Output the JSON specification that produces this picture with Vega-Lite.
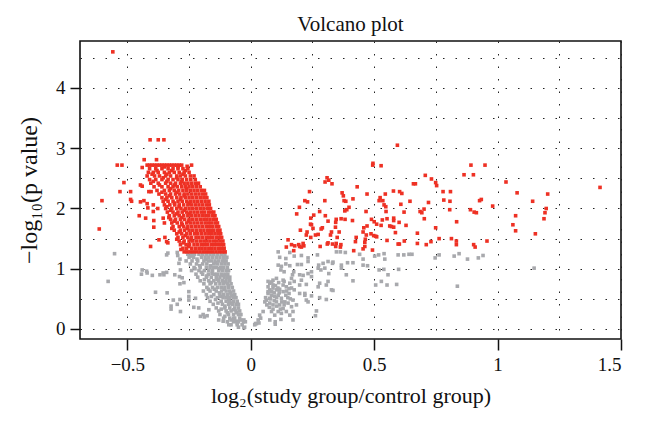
{"$schema":"https://vega.github.io/schema/vega-lite/v6.json","width":541,"height":298,"autosize":{"type":"none"},"padding":{"left":80,"top":41,"right":25,"bottom":89},"background":"white",
"config":{"view":{"stroke":"#111","strokeWidth":1.6},"font":"Liberation Serif"},
"title":{"text":"Volcano plot","fontSize":21,"fontWeight":"normal","font":"Liberation Serif","color":"#111","offset":6},
"datasets":{
"gray":[
{"x":-0.243,"y":1.21},{"x":-0.218,"y":1.16},{"x":-0.207,"y":1.05},{"x":-0.226,"y":1.0},{"x":-0.182,"y":1.15},{"x":-0.163,"y":1.05},{"x":-0.143,"y":1.1},{"x":-0.127,"y":1.0},{"x":-0.108,"y":1.13},{"x":-0.2,"y":0.94},{"x":-0.178,"y":0.88},{"x":-0.157,"y":0.92},{"x":-0.113,"y":0.89},{"x":-0.188,"y":0.82},{"x":-0.16,"y":0.77},{"x":-0.137,"y":0.82},{"x":-0.105,"y":0.78},{"x":-0.09,"y":0.72},{"x":-0.172,"y":0.66},{"x":-0.148,"y":0.66},{"x":-0.127,"y":0.6},{"x":-0.108,"y":0.66},{"x":-0.082,"y":0.6},{"x":-0.16,"y":0.54},{"x":-0.143,"y":0.49},{"x":-0.122,"y":0.54},{"x":-0.09,"y":0.49},{"x":-0.073,"y":0.55},{"x":-0.133,"y":0.43},{"x":-0.105,"y":0.38},{"x":-0.08,"y":0.43},{"x":-0.12,"y":0.33},{"x":-0.095,"y":0.27},{"x":-0.07,"y":0.32},{"x":-0.057,"y":0.27},{"x":-0.105,"y":0.21},{"x":-0.08,"y":0.15},{"x":-0.04,"y":0.15},
{"x":0.747,"y":1.18},{"x":0.763,"y":1.23},{"x":0.824,"y":1.21},{"x":0.844,"y":1.25},{"x":0.878,"y":1.16},{"x":0.922,"y":1.18},{"x":0.941,"y":1.22},{"x":1.148,"y":1.01},{"x":0.837,"y":0.71},
{"x":0.111,"y":1.28},{"x":0.117,"y":1.19},{"x":0.142,"y":1.17},{"x":0.158,"y":1.27},{"x":0.176,"y":1.21},{"x":0.205,"y":1.22},{"x":0.232,"y":1.18},{"x":0.27,"y":1.23},{"x":0.142,"y":1.08},{"x":0.111,"y":1.06},{"x":0.124,"y":1.04},{"x":0.158,"y":1.05},{"x":0.189,"y":1.07},{"x":0.205,"y":1.07},{"x":0.232,"y":1.12},{"x":0.347,"y":1.28},{"x":0.363,"y":1.28},{"x":0.383,"y":1.27},{"x":0.441,"y":1.24},{"x":0.455,"y":1.16},{"x":0.502,"y":1.21},{"x":0.518,"y":1.23},{"x":0.54,"y":1.25},{"x":0.543,"y":1.16},{"x":0.597,"y":1.23},{"x":0.62,"y":1.23},{"x":0.641,"y":1.24},{"x":0.653,"y":1.24},{"x":0.313,"y":1.12},{"x":0.293,"y":1.09},{"x":0.275,"y":1.06},{"x":0.333,"y":1.11},{"x":0.367,"y":1.06},{"x":0.392,"y":1.1},{"x":0.414,"y":1.1},{"x":0.455,"y":1.06},{"x":0.473,"y":1.05},{"x":0.3,"y":1.01},{"x":0.367,"y":1.01},{"x":0.52,"y":0.98},{"x":0.539,"y":0.99},{"x":0.556,"y":0.9},{"x":0.599,"y":0.99},{"x":0.387,"y":0.9},{"x":0.414,"y":0.8},{"x":0.529,"y":0.79},{"x":0.506,"y":0.73},{"x":0.552,"y":0.73},{"x":0.591,"y":0.74},{"x":0.331,"y":1.09},{"x":0.273,"y":1.01},{"x":0.284,"y":0.98},{"x":0.246,"y":0.95},{"x":0.232,"y":0.92},{"x":0.212,"y":0.89},{"x":0.198,"y":0.9},{"x":0.174,"y":0.95},{"x":0.169,"y":0.9},{"x":0.135,"y":0.95},{"x":0.122,"y":0.98},{"x":0.135,"y":0.79},{"x":0.09,"y":0.81},{"x":0.104,"y":0.84},{"x":0.07,"y":0.79},{"x":0.077,"y":0.76},{"x":0.113,"y":0.77},{"x":0.131,"y":0.73},{"x":0.176,"y":0.79},{"x":0.205,"y":0.81},{"x":0.225,"y":0.74},{"x":0.316,"y":0.92},{"x":0.313,"y":0.79},{"x":0.306,"y":0.73},{"x":0.279,"y":0.76},{"x":0.273,"y":0.7},{"x":0.246,"y":0.87},{"x":0.327,"y":0.65},{"x":0.333,"y":0.64},{"x":0.198,"y":0.59},{"x":0.219,"y":0.59},{"x":0.246,"y":0.55},{"x":0.225,"y":0.48},{"x":0.232,"y":0.45},{"x":0.279,"y":0.52},{"x":0.306,"y":0.49},{"x":0.176,"y":0.65},{"x":0.165,"y":0.68},{"x":0.155,"y":0.59},{"x":0.142,"y":0.56},{"x":0.131,"y":0.62},{"x":0.117,"y":0.66},{"x":0.104,"y":0.65},{"x":0.09,"y":0.68},{"x":0.077,"y":0.65},{"x":0.07,"y":0.59},{"x":0.063,"y":0.48},{"x":0.057,"y":0.45},{"x":0.084,"y":0.56},{"x":0.097,"y":0.54},{"x":0.111,"y":0.56},{"x":0.124,"y":0.51},{"x":0.138,"y":0.45},{"x":0.151,"y":0.43},{"x":0.171,"y":0.48},{"x":0.185,"y":0.4},{"x":0.077,"y":0.43},{"x":0.09,"y":0.4},{"x":0.104,"y":0.45},{"x":0.117,"y":0.4},{"x":0.131,"y":0.34},{"x":0.144,"y":0.29},{"x":0.165,"y":0.37},{"x":0.171,"y":0.29},{"x":0.084,"y":0.29},{"x":0.097,"y":0.23},{"x":0.111,"y":0.29},{"x":0.124,"y":0.26},{"x":0.05,"y":0.29},{"x":0.036,"y":0.23},{"x":0.023,"y":0.09},{"x":0.016,"y":0.07},{"x":0.03,"y":0.15},{"x":0.077,"y":0.15},{"x":0.099,"y":0.12},{"x":0.099,"y":0.08},{"x":0.122,"y":0.16},{"x":0.171,"y":0.15},{"x":0.266,"y":0.3},{"x":0.262,"y":0.22},{"x":0.158,"y":0.23},{"x":0.077,"y":0.51},{"x":0.07,"y":0.7},{"x":0.09,"y":0.73},{"x":0.131,"y":0.81},{"x":0.144,"y":0.7},{"x":0.158,"y":0.76},{"x":0.165,"y":0.84},{"x":0.198,"y":0.73},{"x":0.219,"y":0.56},{"x":0.06,"y":0.52},{"x":0.07,"y":0.62},{"x":0.08,"y":0.5},{"x":0.085,"y":0.62},{"x":0.095,"y":0.47},{"x":0.105,"y":0.52},{"x":0.115,"y":0.6},{"x":0.125,"y":0.45},{"x":0.095,"y":0.6},{"x":0.105,"y":0.38},{"x":0.12,"y":0.33},{"x":0.135,"y":0.4},{"x":0.09,"y":0.33},{"x":0.075,"y":0.36},{"x":0.065,"y":0.4},{"x":0.15,"y":0.52},{"x":0.16,"y":0.5},{"x":0.145,"y":0.63},{"x":0.155,"y":0.67},{"x":0.1,"y":0.72},{"x":0.085,"y":0.78},{"x":0.11,"y":0.68},{"x":0.019,"y":0.09},{"x":0.033,"y":0.1},{"x":0.04,"y":0.18},
{"x":-0.552,"y":1.25},{"x":-0.578,"y":0.79},{"x":-0.44,"y":0.98},{"x":-0.443,"y":0.91},{"x":-0.422,"y":0.96},{"x":-0.42,"y":0.93},{"x":-0.399,"y":0.89},{"x":-0.368,"y":0.9},{"x":-0.352,"y":0.9},{"x":-0.341,"y":0.94},{"x":-0.355,"y":0.93},{"x":-0.336,"y":1.26},{"x":-0.341,"y":1.23},{"x":-0.298,"y":1.27},{"x":-0.296,"y":1.22},{"x":-0.287,"y":1.16},{"x":-0.291,"y":1.09},{"x":-0.285,"y":0.98},{"x":-0.308,"y":0.9},{"x":-0.289,"y":0.87},{"x":-0.278,"y":0.85},{"x":-0.287,"y":0.75},{"x":-0.271,"y":0.77},{"x":-0.386,"y":0.61},{"x":-0.339,"y":0.6},{"x":-0.314,"y":0.48},{"x":-0.287,"y":0.49},{"x":-0.298,"y":0.41},{"x":-0.323,"y":0.38},{"x":-0.323,"y":0.33},{"x":-0.285,"y":0.29},{"x":-0.251,"y":0.62},{"x":-0.251,"y":0.54},{"x":-0.251,"y":0.48},{"x":-0.231,"y":0.36},{"x":-0.211,"y":0.35},{"x":-0.224,"y":0.51},
{"x":-0.188,"y":0.2},{"x":-0.177,"y":0.22},{"x":-0.193,"y":0.24},{"x":-0.17,"y":0.32},{"x":-0.204,"y":0.21},{"x":-0.13,"y":0.15},{"x":-0.112,"y":0.13},{"x":-0.089,"y":0.07},{"x":-0.069,"y":0.18},{"x":-0.058,"y":0.13},{"x":-0.045,"y":0.24},{"x":-0.028,"y":0.15},{"x":-0.022,"y":0.12},{"x":-0.028,"y":0.02},{"x":-0.055,"y":0.1},
{"x":-0.255,"y":1.24},{"x":-0.24,"y":1.24},{"x":-0.228,"y":1.24},{"x":-0.21,"y":1.24},{"x":-0.195,"y":1.24},{"x":-0.18,"y":1.24},{"x":-0.165,"y":1.24},{"x":-0.15,"y":1.24},{"x":-0.135,"y":1.24},{"x":-0.12,"y":1.24},{"x":-0.105,"y":1.24},
{"x":-0.25,"y":1.19},{"x":-0.232,"y":1.19},{"x":-0.2,"y":1.19},{"x":-0.185,"y":1.19},{"x":-0.17,"y":1.19},{"x":-0.155,"y":1.19},{"x":-0.14,"y":1.19},{"x":-0.125,"y":1.19},{"x":-0.11,"y":1.19},{"x":-0.097,"y":1.19},
{"x":-0.262,"y":1.13},{"x":-0.238,"y":1.13},{"x":-0.215,"y":1.13},{"x":-0.19,"y":1.13},{"x":-0.172,"y":1.13},{"x":-0.16,"y":1.13},{"x":-0.145,"y":1.13},{"x":-0.13,"y":1.13},{"x":-0.115,"y":1.13},{"x":-0.1,"y":1.13},
{"x":-0.245,"y":1.08},{"x":-0.22,"y":1.08},{"x":-0.195,"y":1.08},{"x":-0.178,"y":1.08},{"x":-0.15,"y":1.08},{"x":-0.136,"y":1.08},{"x":-0.12,"y":1.08},{"x":-0.105,"y":1.08},{"x":-0.092,"y":1.08},
{"x":-0.23,"y":1.02},{"x":-0.205,"y":1.02},{"x":-0.18,"y":1.02},{"x":-0.165,"y":1.02},{"x":-0.15,"y":1.02},{"x":-0.138,"y":1.02},{"x":-0.122,"y":1.02},{"x":-0.11,"y":1.02},{"x":-0.095,"y":1.02},
{"x":-0.24,"y":0.97},{"x":-0.21,"y":0.97},{"x":-0.188,"y":0.97},{"x":-0.17,"y":0.97},{"x":-0.155,"y":0.97},{"x":-0.13,"y":0.97},{"x":-0.115,"y":0.97},{"x":-0.1,"y":0.97},{"x":-0.09,"y":0.97},
{"x":-0.222,"y":0.91},{"x":-0.195,"y":0.91},{"x":-0.172,"y":0.91},{"x":-0.148,"y":0.91},{"x":-0.135,"y":0.91},{"x":-0.12,"y":0.91},{"x":-0.105,"y":0.91},{"x":-0.093,"y":0.91},
{"x":-0.215,"y":0.86},{"x":-0.18,"y":0.86},{"x":-0.16,"y":0.86},{"x":-0.14,"y":0.86},{"x":-0.125,"y":0.86},{"x":-0.108,"y":0.86},{"x":-0.095,"y":0.86},{"x":-0.085,"y":0.86},
{"x":-0.205,"y":0.8},{"x":-0.17,"y":0.8},{"x":-0.15,"y":0.8},{"x":-0.13,"y":0.8},{"x":-0.115,"y":0.8},{"x":-0.1,"y":0.8},{"x":-0.085,"y":0.8},
{"x":-0.19,"y":0.75},{"x":-0.165,"y":0.75},{"x":-0.142,"y":0.75},{"x":-0.125,"y":0.75},{"x":-0.11,"y":0.75},{"x":-0.095,"y":0.75},{"x":-0.08,"y":0.75},
{"x":-0.178,"y":0.69},{"x":-0.155,"y":0.69},{"x":-0.135,"y":0.69},{"x":-0.12,"y":0.69},{"x":-0.105,"y":0.69},{"x":-0.09,"y":0.69},{"x":-0.075,"y":0.69},
{"x":-0.192,"y":0.63},{"x":-0.165,"y":0.63},{"x":-0.14,"y":0.63},{"x":-0.118,"y":0.63},{"x":-0.1,"y":0.63},{"x":-0.085,"y":0.63},{"x":-0.07,"y":0.63},
{"x":-0.18,"y":0.57},{"x":-0.15,"y":0.57},{"x":-0.125,"y":0.57},{"x":-0.11,"y":0.57},{"x":-0.095,"y":0.57},{"x":-0.08,"y":0.57},{"x":-0.065,"y":0.57},
{"x":-0.175,"y":0.52},{"x":-0.135,"y":0.52},{"x":-0.112,"y":0.52},{"x":-0.098,"y":0.52},{"x":-0.085,"y":0.52},{"x":-0.07,"y":0.52},{"x":-0.06,"y":0.52},
{"x":-0.165,"y":0.46},{"x":-0.12,"y":0.46},{"x":-0.1,"y":0.46},{"x":-0.085,"y":0.46},{"x":-0.07,"y":0.46},{"x":-0.055,"y":0.46},
{"x":-0.152,"y":0.41},{"x":-0.115,"y":0.41},{"x":-0.09,"y":0.41},{"x":-0.075,"y":0.41},{"x":-0.06,"y":0.41},{"x":-0.05,"y":0.41},
{"x":-0.14,"y":0.35},{"x":-0.105,"y":0.35},{"x":-0.085,"y":0.35},{"x":-0.065,"y":0.35},{"x":-0.05,"y":0.35},
{"x":-0.13,"y":0.3},{"x":-0.1,"y":0.3},{"x":-0.08,"y":0.3},{"x":-0.06,"y":0.3},{"x":-0.045,"y":0.3},
{"x":-0.125,"y":0.24},{"x":-0.09,"y":0.24},{"x":-0.07,"y":0.24},{"x":-0.05,"y":0.24},{"x":-0.04,"y":0.24},
{"x":-0.11,"y":0.18},{"x":-0.085,"y":0.18},{"x":-0.065,"y":0.18},{"x":-0.045,"y":0.18},
{"x":-0.095,"y":0.12},{"x":-0.07,"y":0.12},{"x":-0.05,"y":0.12},{"x":-0.03,"y":0.12},
{"x":-0.08,"y":0.07},{"x":-0.055,"y":0.07},{"x":-0.035,"y":0.07},{"x":-0.05,"y":0.03},{"x":-0.025,"y":0.03}
],
"red":[
{"x":-0.283,"y":1.32},{"x":-0.252,"y":1.37},{"x":-0.274,"y":1.43},{"x":-0.3,"y":1.49},{"x":-0.242,"y":1.49},{"x":-0.266,"y":1.55},{"x":-0.29,"y":1.61},{"x":-0.32,"y":1.67},{"x":-0.258,"y":1.67},{"x":-0.278,"y":1.73},{"x":-0.31,"y":1.79},{"x":-0.252,"y":1.79},{"x":-0.332,"y":1.85},{"x":-0.28,"y":1.85},{"x":-0.3,"y":1.91},{"x":-0.25,"y":1.91},{"x":-0.325,"y":1.97},{"x":-0.27,"y":1.97},{"x":-0.34,"y":2.03},{"x":-0.29,"y":2.03},{"x":-0.31,"y":2.09},{"x":-0.25,"y":2.09},{"x":-0.345,"y":2.15},{"x":-0.285,"y":2.15},{"x":-0.33,"y":2.21},{"x":-0.27,"y":2.21},{"x":-0.36,"y":2.27},{"x":-0.3,"y":2.27},{"x":-0.325,"y":2.33},{"x":-0.26,"y":2.33},{"x":-0.37,"y":2.39},{"x":-0.31,"y":2.39},{"x":-0.395,"y":2.45},{"x":-0.34,"y":2.45},{"x":-0.28,"y":2.45},{"x":-0.355,"y":2.51},{"x":-0.3,"y":2.51},{"x":-0.4,"y":2.57},{"x":-0.34,"y":2.57},{"x":-0.275,"y":2.57},{"x":-0.38,"y":2.63},{"x":-0.32,"y":2.63},{"x":-0.265,"y":2.63},{"x":-0.35,"y":2.69},{"x":-0.295,"y":2.69},
{"x":-0.559,"y":4.6},{"x":-0.408,"y":3.14},{"x":-0.375,"y":3.14},{"x":-0.352,"y":3.14},{"x":-0.432,"y":2.81},{"x":-0.382,"y":2.81},{"x":-0.541,"y":2.72},{"x":-0.522,"y":2.72},{"x":-0.44,"y":2.68},{"x":-0.258,"y":2.7},{"x":-0.24,"y":2.72},{"x":-0.514,"y":2.43},{"x":-0.447,"y":2.39},{"x":-0.44,"y":2.37},{"x":-0.53,"y":2.28},{"x":-0.487,"y":2.28},{"x":-0.413,"y":2.28},{"x":-0.404,"y":2.28},{"x":-0.487,"y":2.15},{"x":-0.483,"y":2.12},{"x":-0.603,"y":2.13},{"x":-0.447,"y":2.11},{"x":-0.433,"y":2.13},{"x":-0.42,"y":2.08},{"x":-0.417,"y":2.01},{"x":-0.395,"y":2.06},{"x":-0.395,"y":1.95},{"x":-0.377,"y":2.0},{"x":-0.452,"y":1.88},{"x":-0.426,"y":1.84},{"x":-0.393,"y":1.8},{"x":-0.393,"y":1.69},{"x":-0.614,"y":1.66},{"x":-0.372,"y":1.48},{"x":-0.348,"y":1.52},{"x":-0.341,"y":1.45},{"x":-0.336,"y":1.43},{"x":-0.406,"y":1.37},{"x":-0.355,"y":1.84},{"x":-0.35,"y":1.76},
{"x":-0.27,"y":1.28},{"x":-0.258,"y":1.28},{"x":-0.245,"y":1.28},{"x":-0.232,"y":1.28},{"x":-0.219,"y":1.28},{"x":-0.206,"y":1.28},{"x":-0.193,"y":1.28},{"x":-0.18,"y":1.28},{"x":-0.167,"y":1.28},{"x":-0.154,"y":1.28},{"x":-0.141,"y":1.28},{"x":-0.128,"y":1.28},{"x":-0.115,"y":1.28},{"x":-0.104,"y":1.28},
{"x":-0.275,"y":1.34},{"x":-0.26,"y":1.34},{"x":-0.24,"y":1.34},{"x":-0.225,"y":1.34},{"x":-0.21,"y":1.34},{"x":-0.198,"y":1.34},{"x":-0.185,"y":1.34},{"x":-0.17,"y":1.34},{"x":-0.158,"y":1.34},{"x":-0.145,"y":1.34},{"x":-0.13,"y":1.34},{"x":-0.118,"y":1.34},{"x":-0.108,"y":1.34},
{"x":-0.285,"y":1.4},{"x":-0.262,"y":1.4},{"x":-0.248,"y":1.4},{"x":-0.23,"y":1.4},{"x":-0.215,"y":1.4},{"x":-0.2,"y":1.4},{"x":-0.188,"y":1.4},{"x":-0.175,"y":1.4},{"x":-0.16,"y":1.4},{"x":-0.148,"y":1.4},{"x":-0.135,"y":1.4},{"x":-0.122,"y":1.4},{"x":-0.11,"y":1.4},
{"x":-0.29,"y":1.46},{"x":-0.27,"y":1.46},{"x":-0.25,"y":1.46},{"x":-0.235,"y":1.46},{"x":-0.22,"y":1.46},{"x":-0.205,"y":1.46},{"x":-0.19,"y":1.46},{"x":-0.178,"y":1.46},{"x":-0.165,"y":1.46},{"x":-0.15,"y":1.46},{"x":-0.138,"y":1.46},{"x":-0.125,"y":1.46},{"x":-0.113,"y":1.46},
{"x":-0.295,"y":1.52},{"x":-0.275,"y":1.52},{"x":-0.255,"y":1.52},{"x":-0.24,"y":1.52},{"x":-0.222,"y":1.52},{"x":-0.21,"y":1.52},{"x":-0.195,"y":1.52},{"x":-0.18,"y":1.52},{"x":-0.168,"y":1.52},{"x":-0.155,"y":1.52},{"x":-0.14,"y":1.52},{"x":-0.128,"y":1.52},{"x":-0.118,"y":1.52},
{"x":-0.3,"y":1.58},{"x":-0.28,"y":1.58},{"x":-0.26,"y":1.58},{"x":-0.245,"y":1.58},{"x":-0.228,"y":1.58},{"x":-0.215,"y":1.58},{"x":-0.2,"y":1.58},{"x":-0.185,"y":1.58},{"x":-0.17,"y":1.58},{"x":-0.158,"y":1.58},{"x":-0.145,"y":1.58},{"x":-0.132,"y":1.58},{"x":-0.122,"y":1.58},
{"x":-0.31,"y":1.64},{"x":-0.285,"y":1.64},{"x":-0.268,"y":1.64},{"x":-0.25,"y":1.64},{"x":-0.235,"y":1.64},{"x":-0.22,"y":1.64},{"x":-0.205,"y":1.64},{"x":-0.19,"y":1.64},{"x":-0.175,"y":1.64},{"x":-0.162,"y":1.64},{"x":-0.15,"y":1.64},{"x":-0.135,"y":1.64},{"x":-0.125,"y":1.64},
{"x":-0.315,"y":1.7},{"x":-0.29,"y":1.7},{"x":-0.272,"y":1.7},{"x":-0.255,"y":1.7},{"x":-0.24,"y":1.7},{"x":-0.225,"y":1.7},{"x":-0.21,"y":1.7},{"x":-0.195,"y":1.7},{"x":-0.18,"y":1.7},{"x":-0.168,"y":1.7},{"x":-0.155,"y":1.7},{"x":-0.14,"y":1.7},{"x":-0.13,"y":1.7},
{"x":-0.32,"y":1.76},{"x":-0.298,"y":1.76},{"x":-0.28,"y":1.76},{"x":-0.26,"y":1.76},{"x":-0.245,"y":1.76},{"x":-0.23,"y":1.76},{"x":-0.215,"y":1.76},{"x":-0.2,"y":1.76},{"x":-0.185,"y":1.76},{"x":-0.172,"y":1.76},{"x":-0.16,"y":1.76},{"x":-0.145,"y":1.76},{"x":-0.135,"y":1.76},
{"x":-0.325,"y":1.82},{"x":-0.305,"y":1.82},{"x":-0.285,"y":1.82},{"x":-0.268,"y":1.82},{"x":-0.25,"y":1.82},{"x":-0.235,"y":1.82},{"x":-0.22,"y":1.82},{"x":-0.205,"y":1.82},{"x":-0.19,"y":1.82},{"x":-0.178,"y":1.82},{"x":-0.165,"y":1.82},{"x":-0.15,"y":1.82},{"x":-0.14,"y":1.82},
{"x":-0.33,"y":1.88},{"x":-0.31,"y":1.88},{"x":-0.29,"y":1.88},{"x":-0.272,"y":1.88},{"x":-0.255,"y":1.88},{"x":-0.24,"y":1.88},{"x":-0.225,"y":1.88},{"x":-0.21,"y":1.88},{"x":-0.195,"y":1.88},{"x":-0.182,"y":1.88},{"x":-0.17,"y":1.88},{"x":-0.155,"y":1.88},{"x":-0.145,"y":1.88},
{"x":-0.338,"y":1.94},{"x":-0.315,"y":1.94},{"x":-0.295,"y":1.94},{"x":-0.278,"y":1.94},{"x":-0.26,"y":1.94},{"x":-0.245,"y":1.94},{"x":-0.23,"y":1.94},{"x":-0.215,"y":1.94},{"x":-0.2,"y":1.94},{"x":-0.188,"y":1.94},{"x":-0.172,"y":1.94},{"x":-0.16,"y":1.94},{"x":-0.15,"y":1.94},
{"x":-0.345,"y":2.0},{"x":-0.32,"y":2.0},{"x":-0.3,"y":2.0},{"x":-0.283,"y":2.0},{"x":-0.265,"y":2.0},{"x":-0.25,"y":2.0},{"x":-0.235,"y":2.0},{"x":-0.22,"y":2.0},{"x":-0.205,"y":2.0},{"x":-0.19,"y":2.0},{"x":-0.175,"y":2.0},{"x":-0.163,"y":2.0},
{"x":-0.35,"y":2.06},{"x":-0.328,"y":2.06},{"x":-0.308,"y":2.06},{"x":-0.29,"y":2.06},{"x":-0.272,"y":2.06},{"x":-0.255,"y":2.06},{"x":-0.24,"y":2.06},{"x":-0.225,"y":2.06},{"x":-0.21,"y":2.06},{"x":-0.195,"y":2.06},{"x":-0.18,"y":2.06},{"x":-0.168,"y":2.06},
{"x":-0.355,"y":2.12},{"x":-0.335,"y":2.12},{"x":-0.315,"y":2.12},{"x":-0.295,"y":2.12},{"x":-0.278,"y":2.12},{"x":-0.26,"y":2.12},{"x":-0.245,"y":2.12},{"x":-0.23,"y":2.12},{"x":-0.215,"y":2.12},{"x":-0.2,"y":2.12},{"x":-0.185,"y":2.12},{"x":-0.17,"y":2.12},
{"x":-0.36,"y":2.18},{"x":-0.34,"y":2.18},{"x":-0.32,"y":2.18},{"x":-0.3,"y":2.18},{"x":-0.283,"y":2.18},{"x":-0.265,"y":2.18},{"x":-0.25,"y":2.18},{"x":-0.235,"y":2.18},{"x":-0.22,"y":2.18},{"x":-0.205,"y":2.18},{"x":-0.19,"y":2.18},{"x":-0.178,"y":2.18},
{"x":-0.372,"y":2.24},{"x":-0.345,"y":2.24},{"x":-0.325,"y":2.24},{"x":-0.305,"y":2.24},{"x":-0.288,"y":2.24},{"x":-0.27,"y":2.24},{"x":-0.255,"y":2.24},{"x":-0.24,"y":2.24},{"x":-0.225,"y":2.24},{"x":-0.21,"y":2.24},{"x":-0.195,"y":2.24},{"x":-0.183,"y":2.24},
{"x":-0.38,"y":2.3},{"x":-0.35,"y":2.3},{"x":-0.33,"y":2.3},{"x":-0.31,"y":2.3},{"x":-0.292,"y":2.3},{"x":-0.275,"y":2.3},{"x":-0.26,"y":2.3},{"x":-0.245,"y":2.3},{"x":-0.23,"y":2.3},{"x":-0.215,"y":2.3},{"x":-0.2,"y":2.3},{"x":-0.188,"y":2.3},
{"x":-0.392,"y":2.36},{"x":-0.36,"y":2.36},{"x":-0.335,"y":2.36},{"x":-0.315,"y":2.36},{"x":-0.298,"y":2.36},{"x":-0.28,"y":2.36},{"x":-0.265,"y":2.36},{"x":-0.25,"y":2.36},{"x":-0.235,"y":2.36},{"x":-0.22,"y":2.36},{"x":-0.205,"y":2.36},
{"x":-0.405,"y":2.42},{"x":-0.375,"y":2.42},{"x":-0.345,"y":2.42},{"x":-0.325,"y":2.42},{"x":-0.305,"y":2.42},{"x":-0.285,"y":2.42},{"x":-0.27,"y":2.42},{"x":-0.255,"y":2.42},{"x":-0.24,"y":2.42},{"x":-0.225,"y":2.42},{"x":-0.212,"y":2.42},
{"x":-0.41,"y":2.48},{"x":-0.385,"y":2.48},{"x":-0.36,"y":2.48},{"x":-0.335,"y":2.48},{"x":-0.315,"y":2.48},{"x":-0.295,"y":2.48},{"x":-0.278,"y":2.48},{"x":-0.26,"y":2.48},{"x":-0.243,"y":2.48},{"x":-0.225,"y":2.48},
{"x":-0.42,"y":2.54},{"x":-0.39,"y":2.54},{"x":-0.37,"y":2.54},{"x":-0.345,"y":2.54},{"x":-0.325,"y":2.54},{"x":-0.3,"y":2.54},{"x":-0.285,"y":2.54},{"x":-0.265,"y":2.54},{"x":-0.245,"y":2.54},{"x":-0.23,"y":2.54},
{"x":-0.415,"y":2.6},{"x":-0.395,"y":2.6},{"x":-0.375,"y":2.6},{"x":-0.35,"y":2.6},{"x":-0.33,"y":2.6},{"x":-0.31,"y":2.6},{"x":-0.29,"y":2.6},{"x":-0.27,"y":2.6},{"x":-0.25,"y":2.6},
{"x":-0.41,"y":2.66},{"x":-0.385,"y":2.66},{"x":-0.36,"y":2.66},{"x":-0.335,"y":2.66},{"x":-0.315,"y":2.66},{"x":-0.295,"y":2.66},{"x":-0.275,"y":2.66},{"x":-0.255,"y":2.66},
{"x":-0.42,"y":2.72},{"x":-0.41,"y":2.72},{"x":-0.4,"y":2.72},{"x":-0.39,"y":2.72},{"x":-0.38,"y":2.72},{"x":-0.37,"y":2.72},{"x":-0.36,"y":2.72},{"x":-0.35,"y":2.72},{"x":-0.34,"y":2.72},{"x":-0.33,"y":2.72},{"x":-0.32,"y":2.72},{"x":-0.31,"y":2.72},{"x":-0.3,"y":2.72},{"x":-0.29,"y":2.72},{"x":-0.28,"y":2.72},
{"x":0.594,"y":3.05},{"x":0.494,"y":2.72},{"x":0.528,"y":2.71},{"x":0.495,"y":2.75},{"x":0.707,"y":2.55},{"x":0.309,"y":2.51},{"x":0.316,"y":2.47},{"x":0.301,"y":2.44},{"x":0.329,"y":2.41},{"x":0.659,"y":2.41},{"x":0.667,"y":2.41},{"x":0.732,"y":2.49},{"x":0.749,"y":2.43},{"x":0.753,"y":2.38},{"x":0.431,"y":2.36},{"x":0.238,"y":2.28},{"x":0.37,"y":2.26},{"x":0.471,"y":2.24},{"x":0.545,"y":2.24},{"x":0.578,"y":2.29},{"x":0.603,"y":2.28},{"x":0.612,"y":2.25},{"x":0.375,"y":2.21},{"x":0.414,"y":2.16},{"x":0.524,"y":2.18},{"x":0.52,"y":2.13},{"x":0.535,"y":2.13},{"x":0.219,"y":2.13},{"x":0.23,"y":2.11},{"x":0.3,"y":2.13},{"x":0.378,"y":2.13},{"x":0.385,"y":2.12},{"x":0.645,"y":2.12},{"x":0.608,"y":2.07},{"x":0.54,"y":2.06},{"x":0.72,"y":2.1},{"x":0.547,"y":2.03},{"x":0.398,"y":2.02},{"x":0.389,"y":1.98},{"x":0.197,"y":2.02},{"x":0.279,"y":1.95},{"x":0.381,"y":1.96},{"x":0.467,"y":1.95},{"x":0.548,"y":1.95},{"x":0.621,"y":1.94},{"x":0.186,"y":1.91},{"x":0.686,"y":1.95},{"x":0.693,"y":1.93},{"x":0.702,"y":1.99},{"x":0.255,"y":1.89},{"x":0.302,"y":1.88},{"x":0.243,"y":1.84},{"x":0.346,"y":1.82},{"x":0.366,"y":1.83},{"x":0.382,"y":1.82},{"x":0.412,"y":1.8},{"x":0.489,"y":1.82},{"x":0.5,"y":1.78},{"x":0.313,"y":1.79},{"x":0.533,"y":1.81},{"x":0.552,"y":1.83},{"x":0.579,"y":1.84},{"x":0.579,"y":1.8},{"x":0.703,"y":1.83},{"x":0.242,"y":1.74},{"x":0.246,"y":1.73},{"x":0.344,"y":1.77},{"x":0.51,"y":1.74},{"x":0.528,"y":1.72},{"x":0.563,"y":1.71},{"x":0.57,"y":1.7},{"x":0.579,"y":1.69},{"x":0.601,"y":1.77},{"x":0.629,"y":1.72},{"x":0.471,"y":1.71},{"x":0.458,"y":1.68},{"x":0.252,"y":1.67},{"x":0.29,"y":1.68},{"x":0.285,"y":1.66},{"x":0.343,"y":1.69},{"x":0.749,"y":1.68},{"x":0.201,"y":1.64},{"x":0.455,"y":1.61},{"x":0.586,"y":1.6},{"x":0.675,"y":1.59},{"x":0.327,"y":1.61},{"x":0.358,"y":1.61},{"x":0.228,"y":1.61},{"x":0.225,"y":1.56},{"x":0.262,"y":1.56},{"x":0.273,"y":1.57},{"x":0.487,"y":1.58},{"x":0.498,"y":1.55},{"x":0.506,"y":1.54},{"x":0.51,"y":1.53},{"x":0.468,"y":1.56},{"x":0.323,"y":1.56},{"x":0.243,"y":1.52},{"x":0.35,"y":1.52},{"x":0.427,"y":1.52},{"x":0.763,"y":1.5},{"x":0.151,"y":1.48},{"x":0.552,"y":1.47},{"x":0.622,"y":1.46},{"x":0.464,"y":1.49},{"x":0.462,"y":1.44},{"x":0.424,"y":1.45},{"x":0.313,"y":1.43},{"x":0.31,"y":1.41},{"x":0.331,"y":1.41},{"x":0.346,"y":1.42},{"x":0.675,"y":1.42},{"x":0.73,"y":1.45},{"x":0.597,"y":1.41},{"x":0.602,"y":1.41},{"x":0.711,"y":1.4},{"x":0.165,"y":1.4},{"x":0.178,"y":1.38},{"x":0.144,"y":1.36},{"x":0.194,"y":1.4},{"x":0.198,"y":1.37},{"x":0.212,"y":1.42},{"x":0.215,"y":1.38},{"x":0.205,"y":1.36},{"x":0.344,"y":1.37},{"x":0.281,"y":1.37},{"x":0.365,"y":1.4},{"x":0.363,"y":1.36},{"x":0.462,"y":1.37},{"x":0.455,"y":1.33},{"x":0.174,"y":1.3},{"x":0.417,"y":1.3},{"x":0.493,"y":1.31},
{"x":0.892,"y":2.72},{"x":0.949,"y":2.72},{"x":0.864,"y":2.56},{"x":0.902,"y":2.56},{"x":1.034,"y":2.44},{"x":0.779,"y":2.28},{"x":0.809,"y":2.28},{"x":1.079,"y":2.26},{"x":1.203,"y":2.24},{"x":0.782,"y":2.14},{"x":0.807,"y":2.12},{"x":0.927,"y":2.13},{"x":0.934,"y":2.15},{"x":1.142,"y":2.12},{"x":0.98,"y":2.04},{"x":0.806,"y":1.98},{"x":0.89,"y":1.98},{"x":0.905,"y":1.94},{"x":0.914,"y":1.93},{"x":1.197,"y":2.0},{"x":1.192,"y":1.93},{"x":1.073,"y":1.88},{"x":1.188,"y":1.83},{"x":0.834,"y":1.78},{"x":1.062,"y":1.73},{"x":1.073,"y":1.63},{"x":1.415,"y":2.35},{"x":1.153,"y":1.58},{"x":0.813,"y":1.5},{"x":0.833,"y":1.46},{"x":0.833,"y":1.4},{"x":0.957,"y":1.46},{"x":0.903,"y":1.4},{"x":0.909,"y":1.36}
]},
"encoding":{
"x":{"field":"x","type":"quantitative","scale":{"domain":[-0.692,1.5],"nice":false,"zero":false},
"axis":{"values":[-0.5,-0.25,0,0.25,0.5,0.75,1,1.25,1.5],"format":"~g","labelExpr":"(datum.value*2)%1==0 ? datum.label : ''","grid":true,"gridColor":"#222","gridDash":[1.5,11],"gridWidth":1,"domain":false,"tickColor":"#111","tickWidth":1.5,"tickSize":{"expr":"(datum.value*2)%1==0 ? 11 : 0"},"labelFont":"Liberation Serif","labelFontSize":19,"labelColor":"#111","labelPadding":5,"title":"log₂(study group/control group)","titleFont":"Liberation Serif","titleFontSize":22,"titleFontWeight":"normal","titleColor":"#111","titlePadding":11}},
"y":{"field":"y","type":"quantitative","scale":{"domain":[-0.166,4.78],"nice":false,"zero":false},
"axis":{"values":[0,0.5,1,1.5,2,2.5,3,3.5,4,4.5],"format":"~g","labelExpr":"datum.value%1==0 ? datum.label : ''","grid":true,"gridColor":"#222","gridDash":[1.5,11],"gridWidth":1,"domain":false,"tickColor":"#111","tickWidth":1.5,"tickSize":{"expr":"datum.value%1==0 ? 10 : 0"},"labelFont":"Liberation Serif","labelFontSize":19,"labelColor":"#111","labelPadding":5,"title":"−log₁₀(p value)","titleFont":"Liberation Serif","titleFontSize":24,"titleFontWeight":"normal","titleColor":"#111","titlePadding":14}}
},
"layer":[
{"data":{"name":"gray"},"mark":{"type":"square","size":13,"color":"#a8a9ad","opacity":1}},
{"data":{"name":"red"},"mark":{"type":"square","size":13,"color":"#ee3124","opacity":1}}
]}
